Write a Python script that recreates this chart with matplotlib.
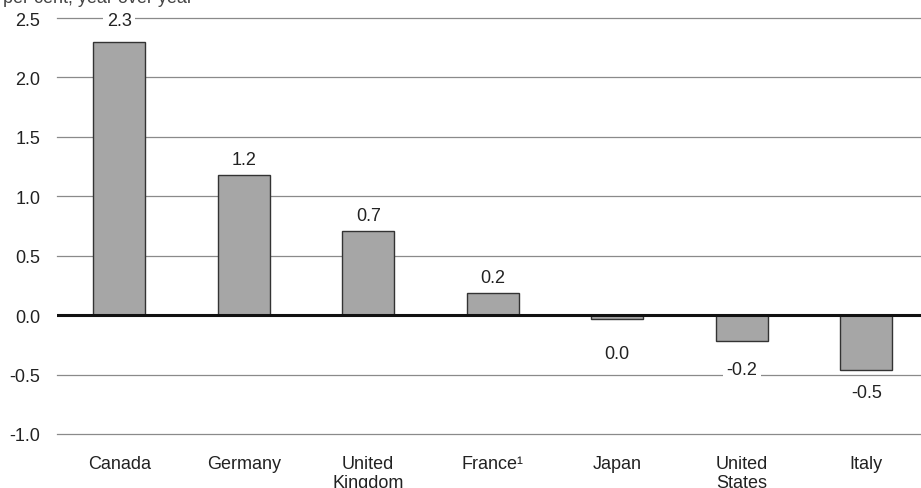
import matplotlib.pyplot as plt

plt.rcParams['font.family'] = ['Liberation Sans', 'DejaVu Sans']

countries = ['Canada', 'Germany', 'United\nKingdom', 'France\u00b9', 'Japan', 'United\nStates', 'Italy']
values = [2.3, 1.18, 0.71, 0.19, -0.03, -0.22, -0.46]
labels = ['2.3', '1.2', '0.7', '0.2', '0.0', '-0.2', '-0.5']
yticks = [-1.0, -0.5, 0.0, 0.5, 1.0, 1.5, 2.0, 2.5]

fs = 13

fig = plt.figure(figsize=(9.21, 4.89), dpi=100)
ax = fig.add_axes([57 / 921, 1 - 435 / 489, 1 - 57 / 921, (435 - 19) / 489])

x = range(len(countries))
ax.bar(x, values, width=0.42, color='#a6a6a6', edgecolor='#333333', linewidth=1.0, zorder=3)

for yv in yticks:
    if yv == 0:
        ax.axhline(0, color='#111111', linewidth=2.2, zorder=4)
    else:
        ax.axhline(yv, color='#8a8a8a', linewidth=0.9, zorder=1, clip_on=False)

# value labels (white box breaks the gridline behind)
offsets = [9, 5, 5, 5, -19, -14, -10]
for i, (v, lab) in enumerate(zip(values, labels)):
    ax.annotate(lab, (i, v), xytext=(0, offsets[i]), textcoords='offset points',
                ha='center', va='bottom' if v >= 0 else 'top',
                fontsize=fs, color='#222222', zorder=5,
                bbox=dict(boxstyle='square,pad=0.2', fc='white', ec='none'))

ax.set_xlim(-0.5, 6.44)
ax.set_ylim(-1.0, 2.5)
ax.set_yticks(yticks)
ax.set_yticklabels([f'{t:.1f}' for t in yticks], fontsize=fs, color='#222222')
ax.set_xticks(list(x))
ax.set_xticklabels(countries, fontsize=fs, color='#222222', linespacing=1.15)
ax.tick_params(axis='both', length=0)
ax.tick_params(axis='x', pad=15)
ax.tick_params(axis='y', pad=12)
for side in ax.spines.values():
    side.set_visible(False)

fig.text(0.003, 1.003, 'per cent, year over year', fontsize=fs, color='#444444',
         ha='left', va='center')

fig.savefig('out.png', dpi=100)
